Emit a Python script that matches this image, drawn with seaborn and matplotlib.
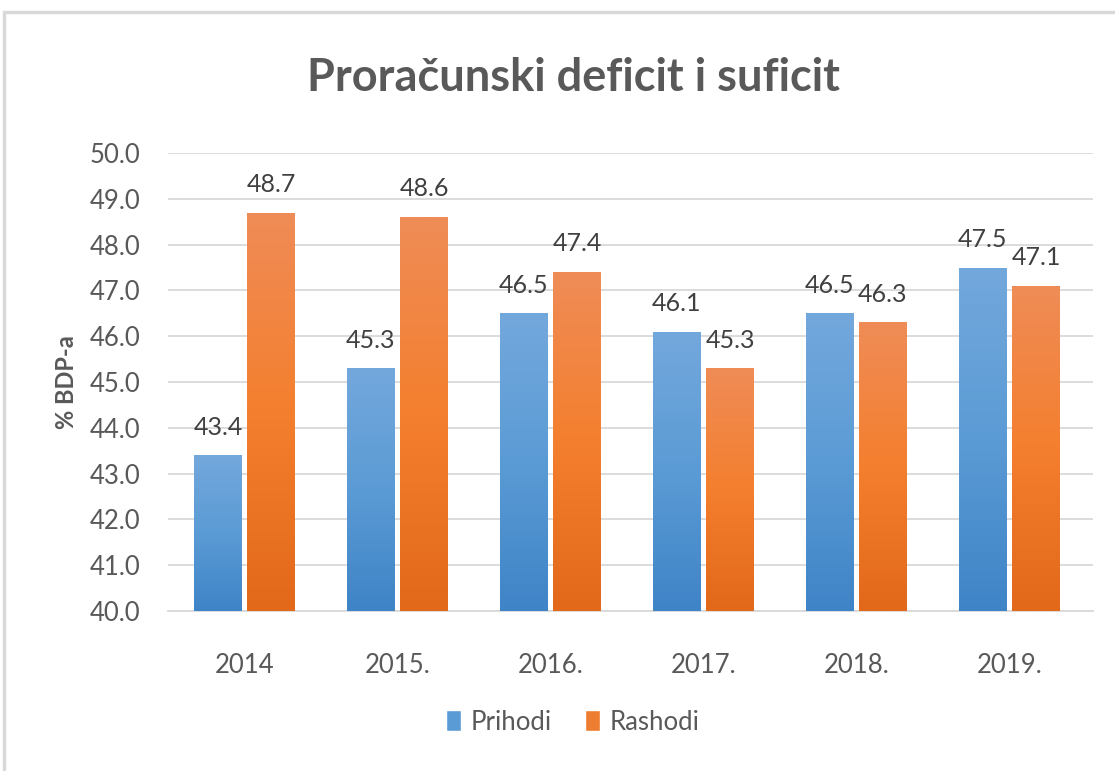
import numpy as np
import pandas as pd
import matplotlib
matplotlib.use("Agg")
import matplotlib.pyplot as plt
from matplotlib.colors import LinearSegmentedColormap
from matplotlib.patches import Rectangle
import seaborn as sns

# data
years = ["2014", "2015.", "2016.", "2017.", "2018.", "2019."]
prihodi = [43.4, 45.3, 46.5, 46.1, 46.5, 47.5]
rashodi = [48.7, 48.6, 47.4, 45.3, 46.3, 47.1]
series = ["Prihodi", "Rashodi"]

df = pd.DataFrame({
    "Godina": years * 2,
    "Serija": [series[0]] * len(years) + [series[1]] * len(years),
    "Vrijednost": prihodi + rashodi,
})

sns.set_style("white")
plt.rcParams["font.family"] = ["Lato", "DejaVu Sans"]

grey = "#595959"
blue_grad = LinearSegmentedColormap.from_list("b", ["#3F84C7", "#5B9BD5", "#73A8DC"])
orange_grad = LinearSegmentedColormap.from_list("o", ["#E2681A", "#F47F2E", "#EF8C57"])

fig = plt.figure(figsize=(11.15, 7.71), dpi=100)
ax = fig.add_axes([0.1507, 0.2075, 0.83, 0.594])

# outer chart frame
fig.patches.append(Rectangle((4 / 1115, -0.01), 1.1, 1 - 12 / 771 + 0.01,
                             transform=fig.transFigure, fill=False,
                             edgecolor="#D9D9D9", linewidth=2.5, zorder=0))

sns.barplot(data=df, x="Godina", y="Vrijednost", hue="Serija",
            palette=["#5B9BD5", "#ED7D31"], saturation=1, width=0.695, gap=0.1,
            ax=ax, legend=True, zorder=3)

ax.set_ylim(40, 50)

# gradient fill on each bar
for cont, cmap in zip(ax.containers, [blue_grad, orange_grad]):
    for bar in cont:
        x0, w = bar.get_x(), bar.get_width()
        top = bar.get_y() + bar.get_height()
        grad = np.linspace(0, 1, 256).reshape(-1, 1)
        im = ax.imshow(grad, cmap=cmap, origin="lower", aspect="auto",
                       extent=(x0, x0 + w, 40, top), zorder=4)
        im.set_clip_path(bar)
        bar.set_edgecolor("none")
    ax.bar_label(cont, fmt="%.1f", padding=12, fontsize=18, color="#404040", zorder=5)

ax.set_xlim(-0.5, len(years) - 0.45)
ax.set_ylim(40, 50)
ax.set_yticks(np.arange(40, 50.1, 1))
ax.set_yticklabels([f"{v:.1f}" for v in np.arange(40, 50.1, 1)])
ax.grid(axis="y", color="#D9D9D9", linewidth=1.3, zorder=0)
ax.set_axisbelow(True)
for s in ["top", "right", "left"]:
    ax.spines[s].set_visible(False)
ax.spines["bottom"].set_color("#D9D9D9")
ax.spines["bottom"].set_linewidth(1.3)
ax.tick_params(axis="both", length=0, labelsize=18.5, labelcolor=grey)
ax.tick_params(axis="y", pad=20)
ax.tick_params(axis="x", pad=30)

ax.set_xlabel("")
ax.set_ylabel("% BDP-a", fontsize=17, fontweight="bold", color=grey, labelpad=8)

fig.text(0.514, 0.899, "Proračunski deficit i suficit", ha="center", va="center",
         fontsize=32.5, fontweight="bold", color=grey)

handles, labels = ax.get_legend_handles_labels()
ax.legend(handles, labels, loc="center", bbox_to_anchor=(0.514, 0.0635),
          bbox_transform=fig.transFigure, ncol=2, frameon=False,
          fontsize=18.5, labelcolor=grey, handlelength=0.55, handleheight=0.9,
          handletextpad=0.4, columnspacing=1.3)

fig.savefig("out.png", dpi=100, facecolor="white")
